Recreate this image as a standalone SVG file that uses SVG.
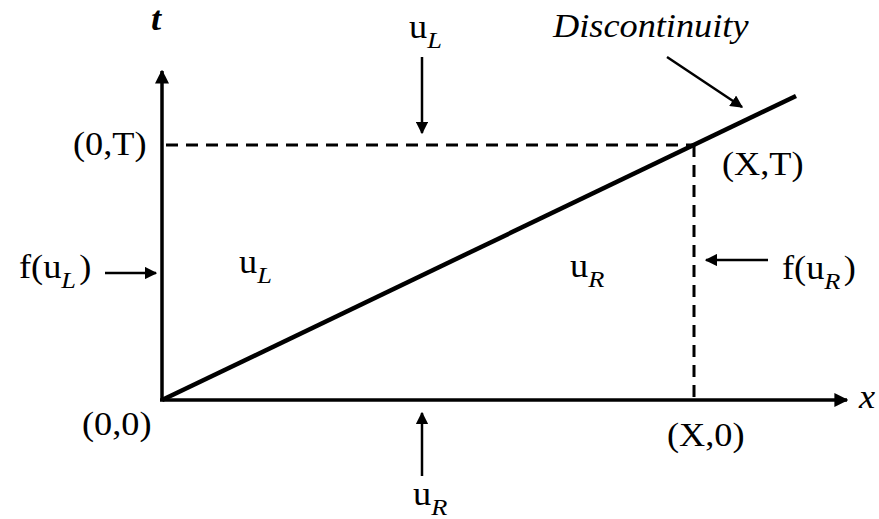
<svg xmlns="http://www.w3.org/2000/svg" width="879" height="519" viewBox="0 0 879 519">
<style>
.lbl{font-family:"Liberation Serif","Times New Roman",serif;font-size:33px;fill:#000}
.it{font-style:italic}
.sub{font-style:italic;font-size:24px}
.ax{stroke:#000;stroke-width:3.5;fill:none}
.ar{stroke:#000;stroke-width:2.5;fill:none}
.dash{stroke:#000;stroke-width:3;stroke-dasharray:12,8;fill:none}
</style>
<defs>
<marker id="ah" viewBox="0 0 10 10" refX="9" refY="5" markerWidth="5" markerHeight="5" orient="auto" markerUnits="strokeWidth"><path d="M0,0 L10,5 L0,10 z" fill="#000"/></marker>
<marker id="ahb" viewBox="0 0 10 10" refX="9" refY="5" markerWidth="4" markerHeight="4" orient="auto" markerUnits="strokeWidth"><path d="M0,0 L10,5 L0,10 z" fill="#000"/></marker>
</defs>
<rect width="879" height="519" fill="#fff"/>
<g id="connectors">
<line class="ax" x1="162" y1="400" x2="162" y2="71" marker-end="url(#ahb)"/>
<line class="ax" x1="160" y1="400" x2="847" y2="400" marker-end="url(#ahb)"/>
<line class="dash" x1="166" y1="145" x2="694" y2="145"/>
<line class="dash" x1="694" y1="145" x2="694" y2="400"/>
<line stroke="#000" stroke-width="4.5" x1="162" y1="400" x2="796" y2="96"/>
<line class="ar" x1="422" y1="57" x2="422" y2="133" marker-end="url(#ah)"/>
<line class="ar" x1="422" y1="476" x2="422" y2="413" marker-end="url(#ah)"/>
<line class="ar" x1="105" y1="273" x2="156" y2="273" marker-end="url(#ah)"/>
<line class="ar" x1="768" y1="260" x2="706" y2="260" marker-end="url(#ah)"/>
<line class="ar" x1="667" y1="57" x2="742" y2="107" marker-end="url(#ah)"/>
</g>
<g id="t-label"><text class="lbl it" font-weight="bold" transform="translate(151,30) scale(1.1,1)">t</text></g>
<g id="x-label"><text class="lbl it" transform="translate(859,408) scale(1.1,1)">x</text></g>
<g id="discontinuity"><text class="lbl it" transform="translate(553,37) scale(1.1,1)">Discontinuity</text></g>
<g id="uL-top"><text class="lbl" transform="translate(409,38) scale(1.1,1)">u<tspan class="sub" dy="10">L</tspan></text></g>
<g id="uR-bottom"><text class="lbl" transform="translate(413,505) scale(1.1,1)">u<tspan class="sub" dy="10">R</tspan></text></g>
<g id="uL-region"><text class="lbl" transform="translate(239,273) scale(1.1,1)">u<tspan class="sub" dy="10">L</tspan></text></g>
<g id="uR-region"><text class="lbl" transform="translate(570,277) scale(1.1,1)">u<tspan class="sub" dy="10">R</tspan></text></g>
<g id="fuL"><text class="lbl" transform="translate(19,278) scale(1.1,1)">f(u<tspan class="sub" dy="10">L</tspan><tspan dy="-10" dx="3">)</tspan></text></g>
<g id="fuR"><text class="lbl" transform="translate(782,279) scale(1.1,1)">f(u<tspan class="sub" dy="10">R</tspan><tspan dy="-10" dx="3">)</tspan></text></g>
<g id="p0T"><text class="lbl" transform="translate(73,155) scale(1.1,1)">(0,T)</text></g>
<g id="pXT"><text class="lbl" transform="translate(722,175) scale(1.1,1)">(X,T)</text></g>
<g id="p00"><text class="lbl" transform="translate(82,435) scale(1.1,1)">(0,0)</text></g>
<g id="pX0"><text class="lbl" transform="translate(667,446) scale(1.1,1)">(X,0)</text></g>
</svg>
